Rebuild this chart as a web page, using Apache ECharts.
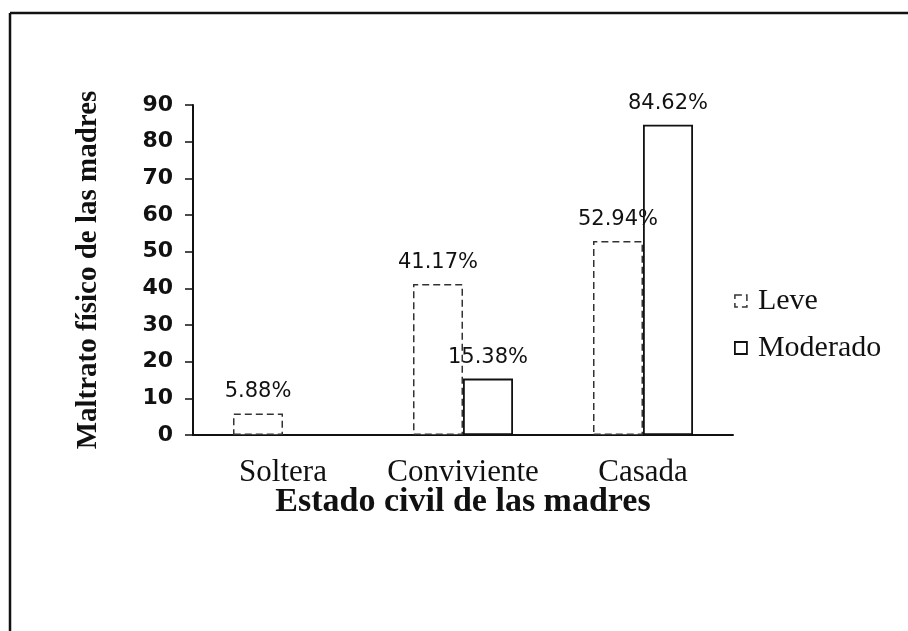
<!DOCTYPE html>
<html>
<head>
<meta charset="utf-8">
<title>Maltrato físico según estado civil</title>
<script src="https://cdn.jsdelivr.net/npm/echarts@6/dist/echarts.min.js"></script>
<style>
  html, body { margin: 0; padding: 0; background: #fff; }
  #chartmain { width: 908px; height: 631px; }
</style>
</head>
<body>
<div id="chartmain"></div>
<script>
var categories = ['Soltera', 'Conviviente', 'Casada'];
var seriesNames = ['Leve', 'Moderado'];
var leveValues = [5.88, 41.17, 52.94];
var moderadoValues = [0, 15.38, 84.62];
var yTicks = [0, 10, 20, 30, 40, 50, 60, 70, 80, 90];

var leveStyle = { color: '#fff', borderColor: '#333', borderWidth: 1.5, borderType: [7, 4] };
var moderadoStyle = { color: '#fff', borderColor: '#111', borderWidth: 1.8, borderType: 'solid' };

function pctLabel(p) {
    return p.value > 0 ? p.value.toFixed(2) + '%' : '';
}

var labelStyle = {
    show: true,
    position: 'top',
    distance: 11,
    formatter: pctLabel,
    fontFamily: 'DejaVu Sans',
    fontSize: 21,
    color: '#111'
};

var chart = echarts.init(document.getElementById('chartmain'));
chart.setOption({
    backgroundColor: '#fff',
    animation: false,
    grid: { left: 193, right: 175, top: 105, bottom: 196 },
    legend: {
        orient: 'vertical',
        left: 729,
        top: 281,
        icon: 'rect',
        itemWidth: 12,
        itemHeight: 12,
        itemGap: 17,
        textStyle: { fontFamily: 'Liberation Serif', fontSize: 30, color: '#111', padding: [0, 0, 0, 6] },
        data: [
            { name: seriesNames[0], itemStyle: leveStyle },
            { name: seriesNames[1], itemStyle: moderadoStyle }
        ]
    },
    xAxis: {
        type: 'category',
        data: categories,
        name: 'Estado civil de las madres',
        nameLocation: 'middle',
        nameGap: 50,
        nameMoveOverlap: false,
        nameTextStyle: { fontFamily: 'Liberation Serif', fontWeight: 'bold', fontSize: 34, color: '#111' },
        axisLine: { lineStyle: { color: '#111', width: 2 } },
        axisTick: { show: false },
        axisLabel: { interval: 0, hideOverlap: false, fontFamily: 'Liberation Serif', fontSize: 31, color: '#111', margin: 22 }
    },
    yAxis: {
        type: 'value',
        min: yTicks[0],
        max: yTicks[yTicks.length - 1],
        interval: yTicks[1] - yTicks[0],
        name: 'Maltrato físico de las madres',
        nameLocation: 'middle',
        nameGap: 90,
        nameMoveOverlap: false,
        nameTextStyle: { fontFamily: 'Liberation Serif', fontWeight: 'bold', fontSize: 29, color: '#111' },
        axisLine: { show: true, lineStyle: { color: '#111', width: 2 } },
        axisTick: { show: true, length: 8, lineStyle: { color: '#111', width: 1.5 } },
        splitLine: { show: false },
        axisLabel: { fontFamily: 'DejaVu Sans', fontWeight: 'bold', fontSize: 22, color: '#111', margin: 20 }
    },
    series: [
        {
            name: seriesNames[0],
            type: 'bar',
            data: leveValues,
            barWidth: 50,
            barGap: '0%',
            itemStyle: leveStyle,
            label: labelStyle
        },
        {
            name: seriesNames[1],
            type: 'bar',
            data: moderadoValues,
            barWidth: 50,
            barGap: '0%',
            itemStyle: moderadoStyle,
            label: labelStyle
        }
    ],
    graphic: [
        { type: 'line', shape: { x1: 10, y1: 13, x2: 908, y2: 13 }, style: { stroke: '#111', lineWidth: 2.5 } },
        { type: 'line', shape: { x1: 10, y1: 13, x2: 10, y2: 631 }, style: { stroke: '#111', lineWidth: 2.5 } }
    ]
});
</script>
</body>
</html>
